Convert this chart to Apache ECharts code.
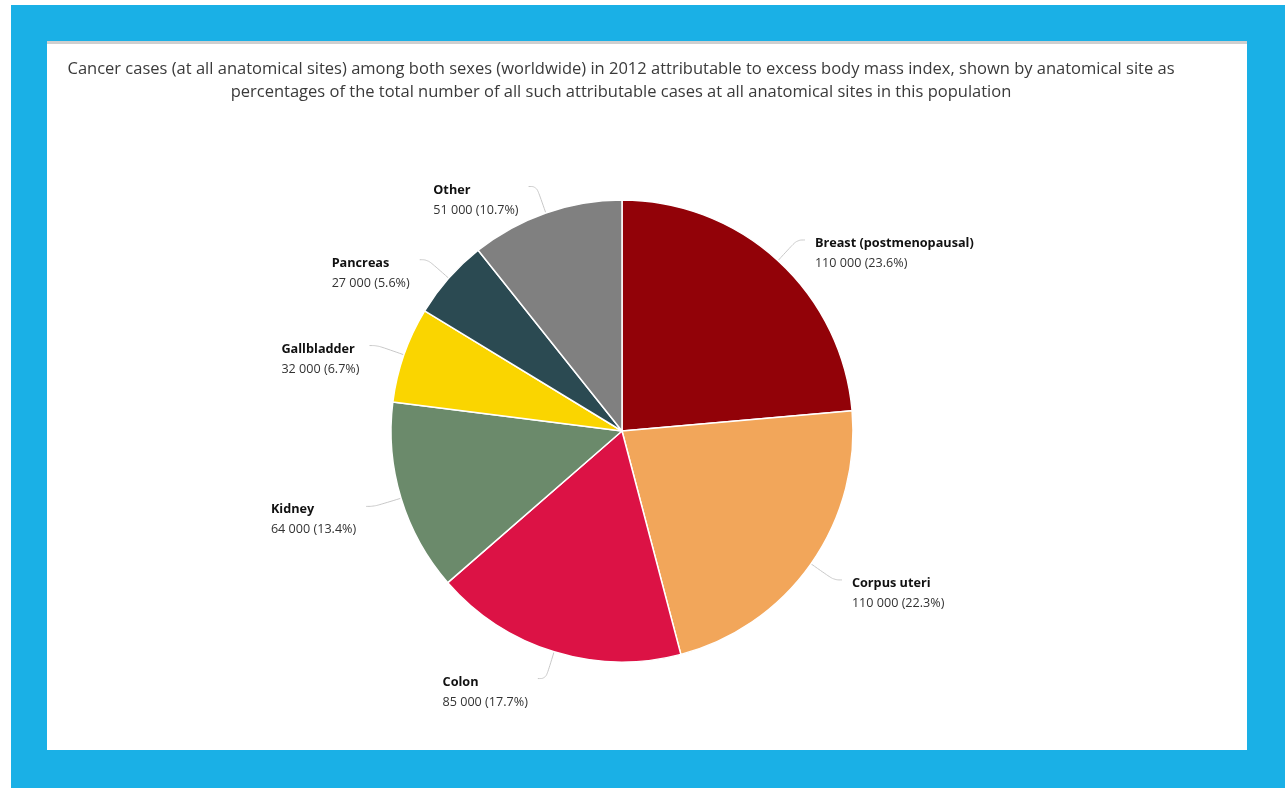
<!DOCTYPE html>
<html>
<head>
<meta charset="utf-8">
<script src="https://cdn.jsdelivr.net/npm/echarts@6/dist/echarts.min.js"></script>
<style>
  html, body { margin: 0; padding: 0; background: #ffffff; }
  #frame { position: absolute; left: 11px; top: 5px; width: 1274px; height: 783px; background: #1ab0e6; }
  #panel { position: absolute; left: 47px; top: 41px; width: 1200px; height: 709px; background: #ffffff; border-top: 3px solid #cfcfcf; box-sizing: border-box; }
  #chart { position: absolute; left: 0; top: 0; width: 1285px; height: 788px; }
</style>
</head>
<body>
<div id="frame"></div>
<div id="panel"></div>
<div id="chart"></div>
<script>
// Anatomical sites, attributable case counts and their share of all attributable cases
const sites = ['Breast (postmenopausal)', 'Corpus uteri', 'Colon', 'Kidney', 'Gallbladder', 'Pancreas', 'Other'];
const cases = ['110 000', '110 000', '85 000', '64 000', '32 000', '27 000', '51 000'];
const percents = [23.6, 22.3, 17.7, 13.4, 6.7, 5.6, 10.7];
const colors = ['#920208', '#f2a65a', '#dc1245', '#6b8a6b', '#fad500', '#2b4a52', '#808080'];

const titleText = 'Cancer cases (at all anatomical sites) among both sexes (worldwide) in 2012 attributable to excess body mass index, shown by anatomical site as\n' +
  'percentages of the total number of all such attributable cases at all anatomical sites in this population';

const chart = echarts.init(document.getElementById('chart'));

const data = sites.map((name, i) => ({
  name: name,
  value: percents[i],
  cases: cases[i],
  itemStyle: { color: colors[i] }
}));

chart.setOption({
  animation: false,
  title: {
    text: titleText,
    left: 616,
    top: 53,
    textAlign: 'center',
    textStyle: {
      fontFamily: 'Open Sans',
      fontSize: 16.5,
      fontWeight: 'normal',
      color: '#3a3a3a',
      lineHeight: 23
    }
  },
  series: [{
    type: 'pie',
    center: [622, 431],
    radius: 231,
    startAngle: 90,
    clockwise: true,
    avoidLabelOverlap: false,
    itemStyle: { borderColor: '#ffffff', borderWidth: 1.5 },
    label: {
      show: true,
      position: 'outside',
      distanceToLabelLine: 10,
      padding: [27, 0, 0, 0],
      formatter: p => '{n|' + p.name + '}\n{v|' + p.data.cases + ' (' + p.value.toFixed(1) + '%)}',
      rich: {
        n: { fontFamily: 'Open Sans', fontSize: 12.7, fontWeight: 'bold', color: '#111111', lineHeight: 20 },
        v: { fontFamily: 'Open Sans', fontSize: 12.6, color: '#333333', lineHeight: 20 }
      }
    },
    labelLine: {
      show: true,
      length: 28,
      length2: 8,
      smooth: 0.4,
      lineStyle: { color: '#c8c8c8', width: 1 }
    },
    // keep every label block left-aligned, on both sides of the pie
    labelLayout: function (params) {
      return {
        x: params.labelRect.x,
        align: 'left',
        labelLinePoints: params.labelLinePoints
      };
    },
    emphasis: { disabled: true },
    data: data
  }]
});
</script>
</body>
</html>
